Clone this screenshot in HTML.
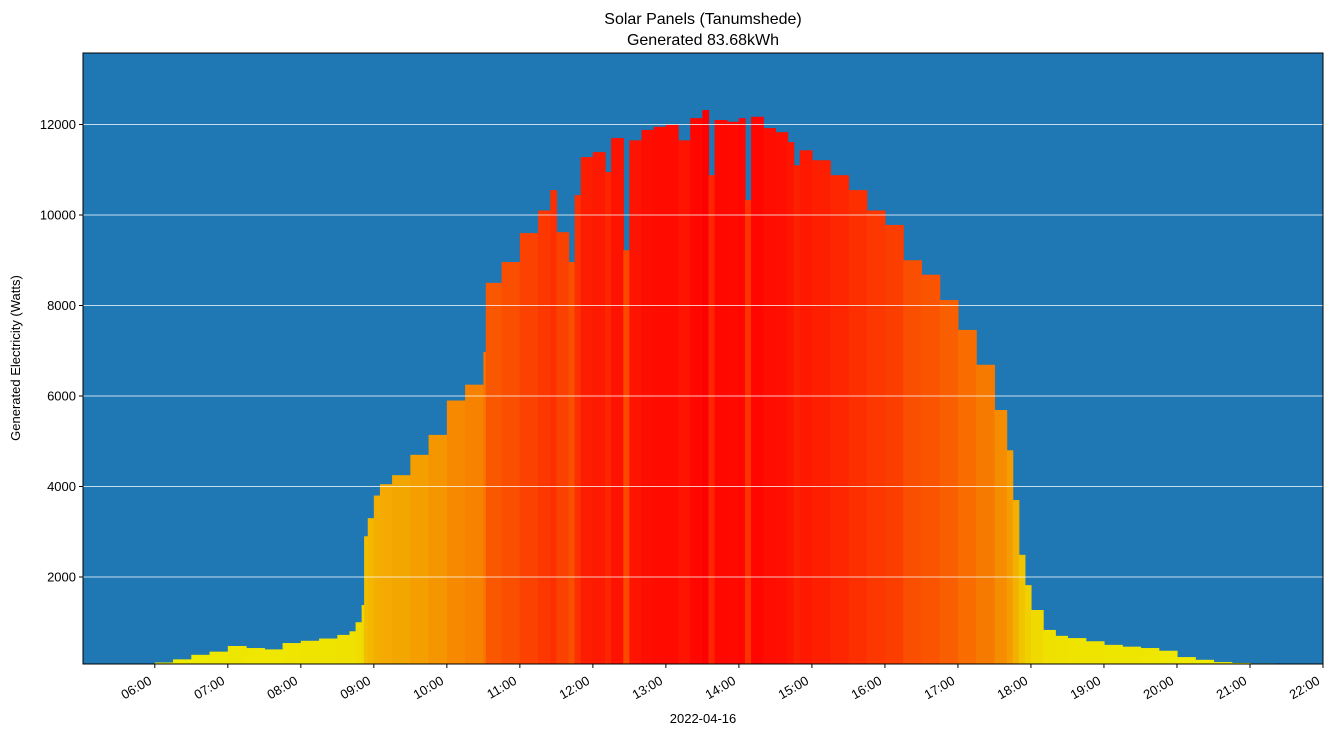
<!DOCTYPE html>
<html><head><meta charset="utf-8"><style>
body{margin:0;background:#fff;font-family:"Liberation Sans",sans-serif}
svg text{font-family:"Liberation Sans",sans-serif;fill:#000}
</style></head><body>
<svg id="chart" width="1333" height="736" xmlns="http://www.w3.org/2000/svg">
<text x="703" y="24" font-size="16" text-anchor="middle">Solar Panels (Tanumshede)</text>
<text x="703" y="45" font-size="16" text-anchor="middle">Generated 83.68kWh</text>
<rect x="83" y="53" width="1240" height="611" fill="#1f77b4"/>
<g id="bars"></g>
<g id="grid"></g>
<g id="axes"></g>
<rect x="83" y="53" width="1240" height="611" fill="none" stroke="#000" stroke-width="1"/>
<text transform="translate(20,358) rotate(-90)" font-size="13" text-anchor="middle">Generated Electricity (Watts)</text>
<text x="703" y="723" font-size="13" text-anchor="middle">2022-04-16</text>
</svg>
<script>
const times=["05:55","06:00","06:15","06:30","06:45","07:00","07:15","07:30","07:45","08:00","08:15","08:30","08:40","08:45","08:50","08:52","08:55","09:00","09:05","09:15","09:30","09:45","10:00","10:15","10:30","10:32","10:45","11:00","11:15","11:25","11:30","11:40","11:45","11:50","12:00","12:10","12:15","12:25","12:30","12:40","12:50","13:00","13:10","13:20","13:30","13:35","13:40","13:50","14:00","14:05","14:10","14:20","14:30","14:40","14:45","14:50","15:00","15:15","15:30","15:45","16:00","16:15","16:30","16:45","17:00","17:15","17:30","17:40","17:45","17:50","17:55","18:00","18:10","18:20","18:30","18:45","19:00","19:15","19:30","19:45","20:00","20:15","20:30","20:45","21:00","21:20"];
const values=[80,110,180,280,350,475,430,400,540,590,640,720,800,1000,1380,2900,3300,3800,4050,4250,4700,5140,5900,6250,6970,8500,8960,9600,10100,10550,9620,8960,10440,11280,11390,10950,11700,9220,11650,11880,11950,12000,11650,12140,12320,10880,12100,12060,12140,10330,12170,11920,11830,11610,11100,11430,11210,10880,10550,10100,9780,9000,8680,8120,7460,6690,5690,4800,3700,2490,1820,1270,830,700,650,580,500,460,430,370,230,170,120,100,90,80];
const yTicks=[2000,4000,6000,8000,10000,12000];
const xTicks=["06:00","07:00","08:00","09:00","10:00","11:00","12:00","13:00","14:00","15:00","16:00","17:00","18:00","19:00","20:00","21:00","22:00"];
const NS="http://www.w3.org/2000/svg";
const X0=83,X1=1323,Y0=53,Y1=664,TMIN=5*60+1,TMAX=22*60,VMIN=77,VMAX=13580;
function tm(s){const p=s.split(":");return +p[0]*60+ +p[1];}
function xs(t){return X0+(t-TMIN)/(TMAX-TMIN)*(X1-X0);}
function ys(v){return Y1-(v-VMIN)/(VMAX-VMIN)*(Y1-Y0);}
const vmax=Math.max(...values);
const bars=document.getElementById('bars');
for(let i=0;i<values.length;i++){
  const t0=tm(times[i]),t1=i+1<times.length?tm(times[i+1]):t0+5;
  const v=values[i]/vmax;
  const g=Math.round(238*Math.pow(1-v,0.85)),r=Math.round(238+17*v);
  const r_=document.createElementNS(NS,'rect');
  
  
  const xa=xs(t0),xb=xs(t1),y=ys(values[i]);
  r_.setAttribute('x',xa);r_.setAttribute('width',xb-xa+0.6);
  r_.setAttribute('y',y);r_.setAttribute('height',Math.max(0,Y1-y));
  r_.setAttribute('fill',`rgb(${r},${g},0)`);
  bars.appendChild(r_);
}
const grid=document.getElementById('grid'),axes=document.getElementById('axes');
yTicks.forEach(v=>{
  const y=ys(v);
  const l=document.createElementNS(NS,'line');
  
  
  l.setAttribute('x1',X0);l.setAttribute('x2',X1);l.setAttribute('y1',y);l.setAttribute('y2',y);
  l.setAttribute('stroke','#fff');l.setAttribute('stroke-width','0.8');grid.appendChild(l);
  const tk=document.createElementNS(NS,'line');
  
  
  tk.setAttribute('x1',X0-4);tk.setAttribute('x2',X0);tk.setAttribute('y1',y);tk.setAttribute('y2',y);tk.setAttribute('stroke','#000');axes.appendChild(tk);
  const tx=document.createElementNS(NS,'text');
  
  
  tx.setAttribute('x',X0-7);tx.setAttribute('y',y+4.5);tx.setAttribute('font-size','13');tx.setAttribute('text-anchor','end');tx.textContent=v;axes.appendChild(tx);
});
xTicks.forEach(s=>{
  const x=xs(tm(s));
  const tk=document.createElementNS(NS,'line');
  
  
  tk.setAttribute('x1',x);tk.setAttribute('x2',x);tk.setAttribute('y1',Y1);tk.setAttribute('y2',Y1+4);tk.setAttribute('stroke','#000');axes.appendChild(tk);
  const tx=document.createElementNS(NS,'text');
  
  
  tx.setAttribute('transform',`translate(${x-7},${Y1+11}) rotate(-30)`);tx.setAttribute('font-size','13');tx.setAttribute('text-anchor','end');tx.setAttribute('dominant-baseline','hanging');tx.textContent=s;axes.appendChild(tx);
});
</script>
</body></html>
